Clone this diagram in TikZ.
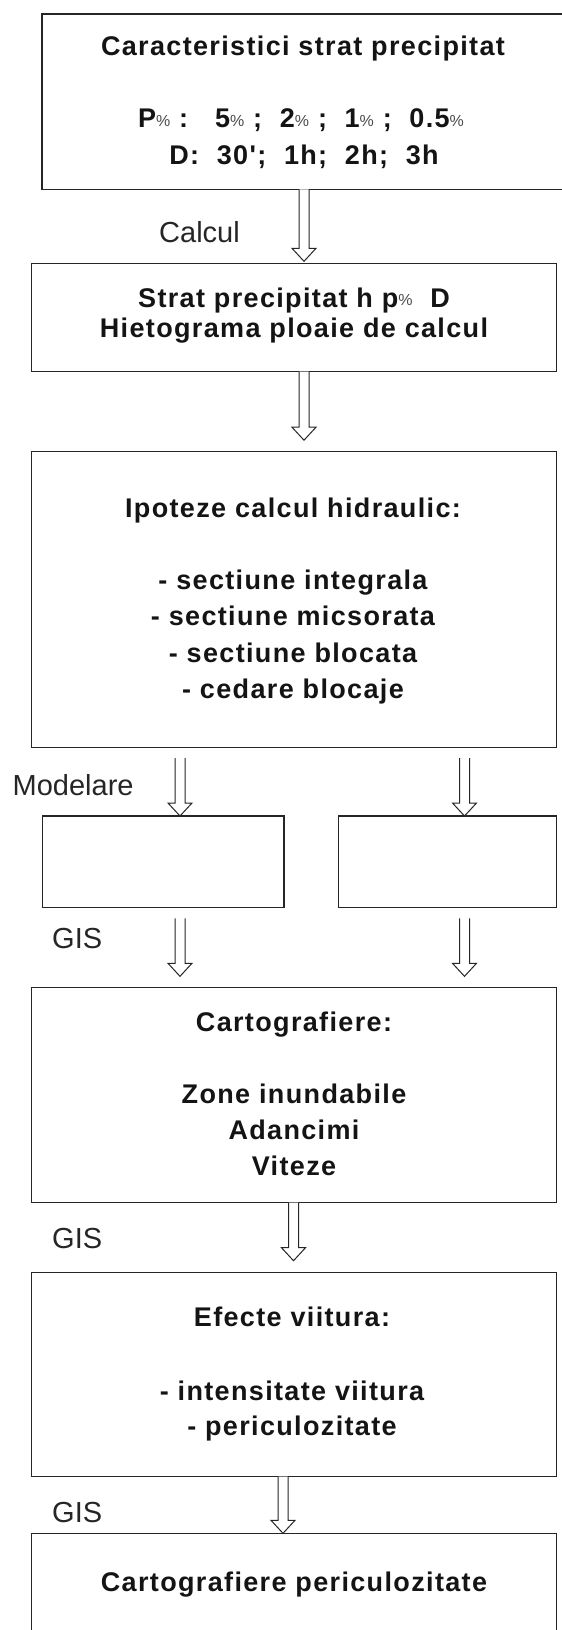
\documentclass[tikz,border=0pt]{standalone}
\usepackage{fontspec}
\setmainfont{Liberation Sans}
\newfontfamily\bfnt{Liberation Sans}[LetterSpace=5]
\usetikzlibrary{calc}
\newcommand\pc{{\mdseries\fontsize{16}{16}\selectfont\textcolor{black!70}{\raisebox{1.5pt}{\%}}}}
\newcommand\blkarrow[2]{\draw[arrowline] let \p1=(#1), \p2=(#2) in
  (\x1-5pt,\y1) -- (\x1-5pt,\y2+13pt) -- (\x1-12pt,\y2+13pt) -- (\x1,\y2)
  -- (\x1+12pt,\y2+13pt) -- (\x1+5pt,\y2+13pt) -- (\x1+5pt,\y1);}
\begin{document}
\begin{tikzpicture}[x=1pt,y=-1pt,
  box/.style={draw=black!85, line width=1.4pt, inner sep=0, outer sep=0, anchor=north west},
  bt/.style={font=\bfnt\bfseries\fontsize{27}{30}\selectfont, anchor=base, inner sep=0, text=black!92},
  lbl/.style={font=\fontsize{29}{30}\selectfont, anchor=base west, inner sep=0, text=black!85},
  arrowline/.style={draw=black!85, line width=1pt, fill=white, line join=miter}]
\useasboundingbox (0,0) rectangle (562,1630);
\clip (0,0) rectangle (562,1630);
\fill[white] (0,0) rectangle (562,1630);

% boxes
\node[box, minimum width=522, minimum height=175.3] (b1) at (42,14) {};
\node[box, minimum width=525, minimum height=108.4] (b2) at (31.5,263.3) {};
\node[box, minimum width=525, minimum height=296] (b3) at (31.5,451.7) {};
\node[box, minimum width=241.7, minimum height=91.3] (b4a) at (42.3,816) {};
\node[box, minimum width=218, minimum height=91.3] (b4b) at (338.7,816) {};
\node[box, minimum width=525, minimum height=215.4] (b5) at (31.5,987.3) {};
\node[box, minimum width=525, minimum height=204] (b6) at (31.5,1272.7) {};
\node[box, minimum width=525, minimum height=120] (b7) at (31.5,1533.3) {};

% texts
\node[bt] (t11) at (303,55) {Caracteristici strat precipitat};
\node[bt] (t12) at (301,127.7) {P\pc\ :\quad 5\pc\ ;\ \ 2\pc\ ;\ \ 1\pc\ ;\ \ 0.5\pc};
\node[bt] (t13) at (304,164.3) {D:\ \ 30';\ \ 1h;\ \ 2h;\ \ 3h};

\node[bt] (t21) at (294,307) {Strat precipitat h p\pc\ \ D};
\node[bt] (t22) at (294,337) {Hietograma ploaie de calcul};

\node[bt] (t31) at (293,517.3) {Ipoteze calcul hidraulic:};
\node[bt] (t32) at (293,589.3) {- sectiune integrala};
\node[bt] (t33) at (293,625.5) {- sectiune micsorata};
\node[bt] (t34) at (293,662) {- sectiune blocata};
\node[bt] (t35) at (293,698.5) {- cedare blocaje};

\node[bt] (t51) at (294,1031.7) {Cartografiere:};
\node[bt] (t52) at (294,1103.3) {Zone inundabile};
\node[bt] (t53) at (294,1139.3) {Adancimi};
\node[bt] (t54) at (294,1175) {Viteze};

\node[bt] (t61) at (292,1326.7) {Efecte viitura:};
\node[bt] (t62) at (292,1400) {- intensitate viitura};
\node[bt] (t63) at (292,1435) {- periculozitate};

\node[bt] (t71) at (294,1591.7) {Cartografiere periculozitate};

% labels
\node[lbl] (lcalc) at (159,242) {Calcul};
\node[lbl] (lmod) at (12.5,795) {Modelare};
\node[lbl] (lgis1) at (52,948) {GIS};
\node[lbl] (lgis2) at (52,1248) {GIS};
\node[lbl] (lgis3) at (52,1522) {GIS};

% arrow axes
\coordinate (xa) at (304,0);
\coordinate (xl) at (180,0);
\coordinate (xr) at (464.5,0);
\coordinate (xc) at (293.5,0);
\coordinate (xd) at (283,0);

\blkarrow{xa |- b1.south}{$(xa |- b2.north)+(0,-2)$}
\blkarrow{xa |- b2.south}{$(xa |- b3.north)+(0,-11.5)$}
\blkarrow{$(xl |- b3.south)+(0,10.5)$}{xl |- b4a.north}
\blkarrow{$(xr |- b3.south)+(0,10.5)$}{xr |- b4b.north}
\blkarrow{$(xl |- b4a.south)+(0,11)$}{$(xl |- b5.north)+(0,-11)$}
\blkarrow{$(xr |- b4b.south)+(0,11)$}{$(xr |- b5.north)+(0,-11)$}
\blkarrow{xc |- b5.south}{$(xc |- b6.north)+(0,-12)$}
\blkarrow{xd |- b6.south}{xd |- b7.north}
\end{tikzpicture}
\end{document}
